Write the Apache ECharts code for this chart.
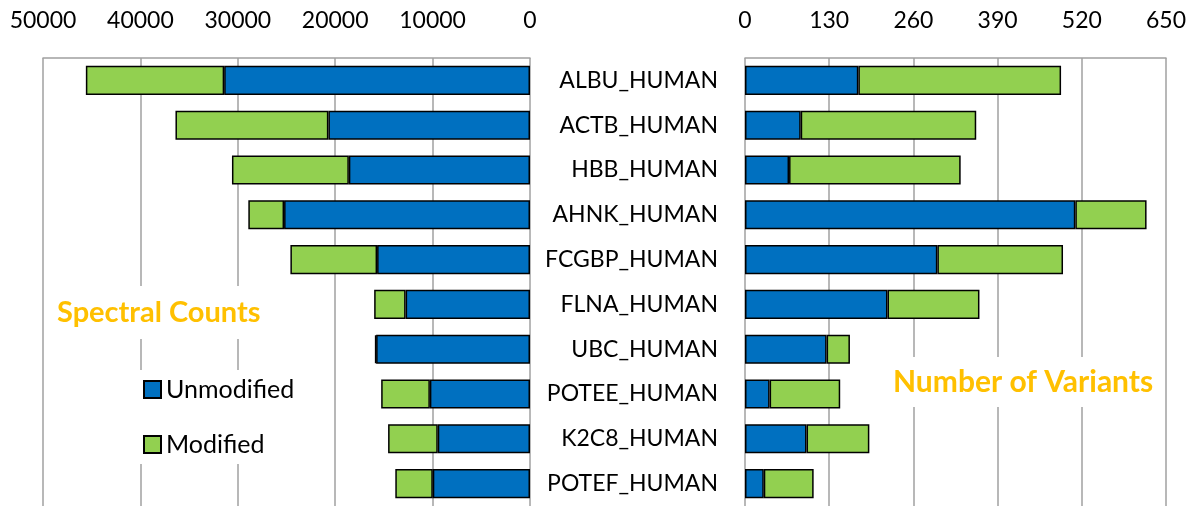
<!DOCTYPE html>
<html>
<head>
<meta charset="utf-8">
<script src="https://cdn.jsdelivr.net/npm/echarts@6/dist/echarts.min.js"></script>
<style>html,body{margin:0;padding:0;background:#fff}#c{width:1196px;height:506px}</style>
</head>
<body>
<div id="c"></div>
<script>
const categories = ['ALBU_HUMAN','ACTB_HUMAN','HBB_HUMAN','AHNK_HUMAN','FCGBP_HUMAN','FLNA_HUMAN','UBC_HUMAN','POTEE_HUMAN','K2C8_HUMAN','POTEF_HUMAN'];
const spectralUnmodified = [31400, 20700, 18600, 25250, 15700, 12770, 15800, 10280, 9470, 9980];
const spectralModified   = [14200, 15700, 12000, 3670, 8900, 3230, 100, 5000, 5100, 3850];
const variantsUnmodified = [175, 86, 68, 510, 297, 220, 126, 38, 95, 29];
const variantsModified   = [313, 271, 265, 110, 194, 142, 36, 109, 97, 77];
const spectralTicks = {min: 0, max: 50000, interval: 10000};
const variantTicks = {min: 0, max: 650, interval: 130};

const FONT = 'Lato';
const BLUE = '#0070C0', GREEN = '#92D050';
const gridLineStyle = {color: '#a0a0a0', width: 1.5};
const barBorder = {borderColor: '#000', borderWidth: 1.5};
const plain = v => String(v);

const chart = echarts.init(document.getElementById('c'));
chart.setOption({
  animation: false,
  textStyle: {fontFamily: FONT},
  title: [
    {text: 'Spectral Counts', left: 50, top: 286, padding: [12, 7],
     backgroundColor: '#fff',
     textStyle: {color: '#FFC000', fontWeight: 'bold', fontSize: 29, fontFamily: FONT}},
    {text: 'Number of Variants', left: 885, top: 357, padding: [10, 8],
     backgroundColor: '#fff',
     textStyle: {color: '#FFC000', fontWeight: 'bold', fontSize: 30, fontFamily: FONT}}
  ],
  legend: {
    data: ['Unmodified', 'Modified'],
    orient: 'vertical', left: 130, top: 370, icon: 'rect',
    padding: [7, 10, 7, 13], backgroundColor: '#fff',
    itemWidth: 17, itemHeight: 17, itemGap: 30,
    textStyle: {fontSize: 25, color: '#000', fontFamily: FONT, lineHeight: 25}
  },
  grid: [
    {left: 43, right: 666, top: 58, bottom: 0},
    {left: 745, right: 30, top: 58, bottom: 0}
  ],
  xAxis: [
    {type: 'value', gridIndex: 0, position: 'top', inverse: true,
     min: spectralTicks.min, max: spectralTicks.max, interval: spectralTicks.interval,
     axisLine: {show: true, lineStyle: gridLineStyle}, axisTick: {show: false},
     axisLabel: {fontSize: 23, color: '#000', margin: 26, fontFamily: FONT, formatter: plain},
     splitLine: {show: true, lineStyle: gridLineStyle}},
    {type: 'value', gridIndex: 1, position: 'top',
     min: variantTicks.min, max: variantTicks.max, interval: variantTicks.interval,
     axisLine: {show: true, lineStyle: gridLineStyle}, axisTick: {show: false},
     axisLabel: {fontSize: 23, color: '#000', margin: 26, fontFamily: FONT, formatter: plain},
     splitLine: {show: true, lineStyle: gridLineStyle}}
  ],
  yAxis: [
    {type: 'category', gridIndex: 0, data: categories, inverse: true,
     axisLine: {show: false}, axisTick: {show: false}, axisLabel: {show: false}},
    {type: 'category', gridIndex: 1, data: categories, inverse: true,
     axisLine: {show: false}, axisTick: {show: false},
     axisLabel: {fontSize: 23, color: '#000', margin: 27, fontFamily: FONT}}
  ],
  series: [
    {name: 'Unmodified', type: 'bar', stack: 'L', xAxisIndex: 0, yAxisIndex: 0,
     barCategoryGap: '35%', data: spectralUnmodified, itemStyle: Object.assign({color: BLUE}, barBorder)},
    {name: 'Modified', type: 'bar', stack: 'L', xAxisIndex: 0, yAxisIndex: 0,
     barCategoryGap: '35%', data: spectralModified, itemStyle: Object.assign({color: GREEN}, barBorder)},
    {name: 'Unmodified', type: 'bar', stack: 'R', xAxisIndex: 1, yAxisIndex: 1,
     barCategoryGap: '35%', data: variantsUnmodified, itemStyle: Object.assign({color: BLUE}, barBorder)},
    {name: 'Modified', type: 'bar', stack: 'R', xAxisIndex: 1, yAxisIndex: 1,
     barCategoryGap: '35%', data: variantsModified, itemStyle: Object.assign({color: GREEN}, barBorder)}
  ]
});
</script>
</body>
</html>
